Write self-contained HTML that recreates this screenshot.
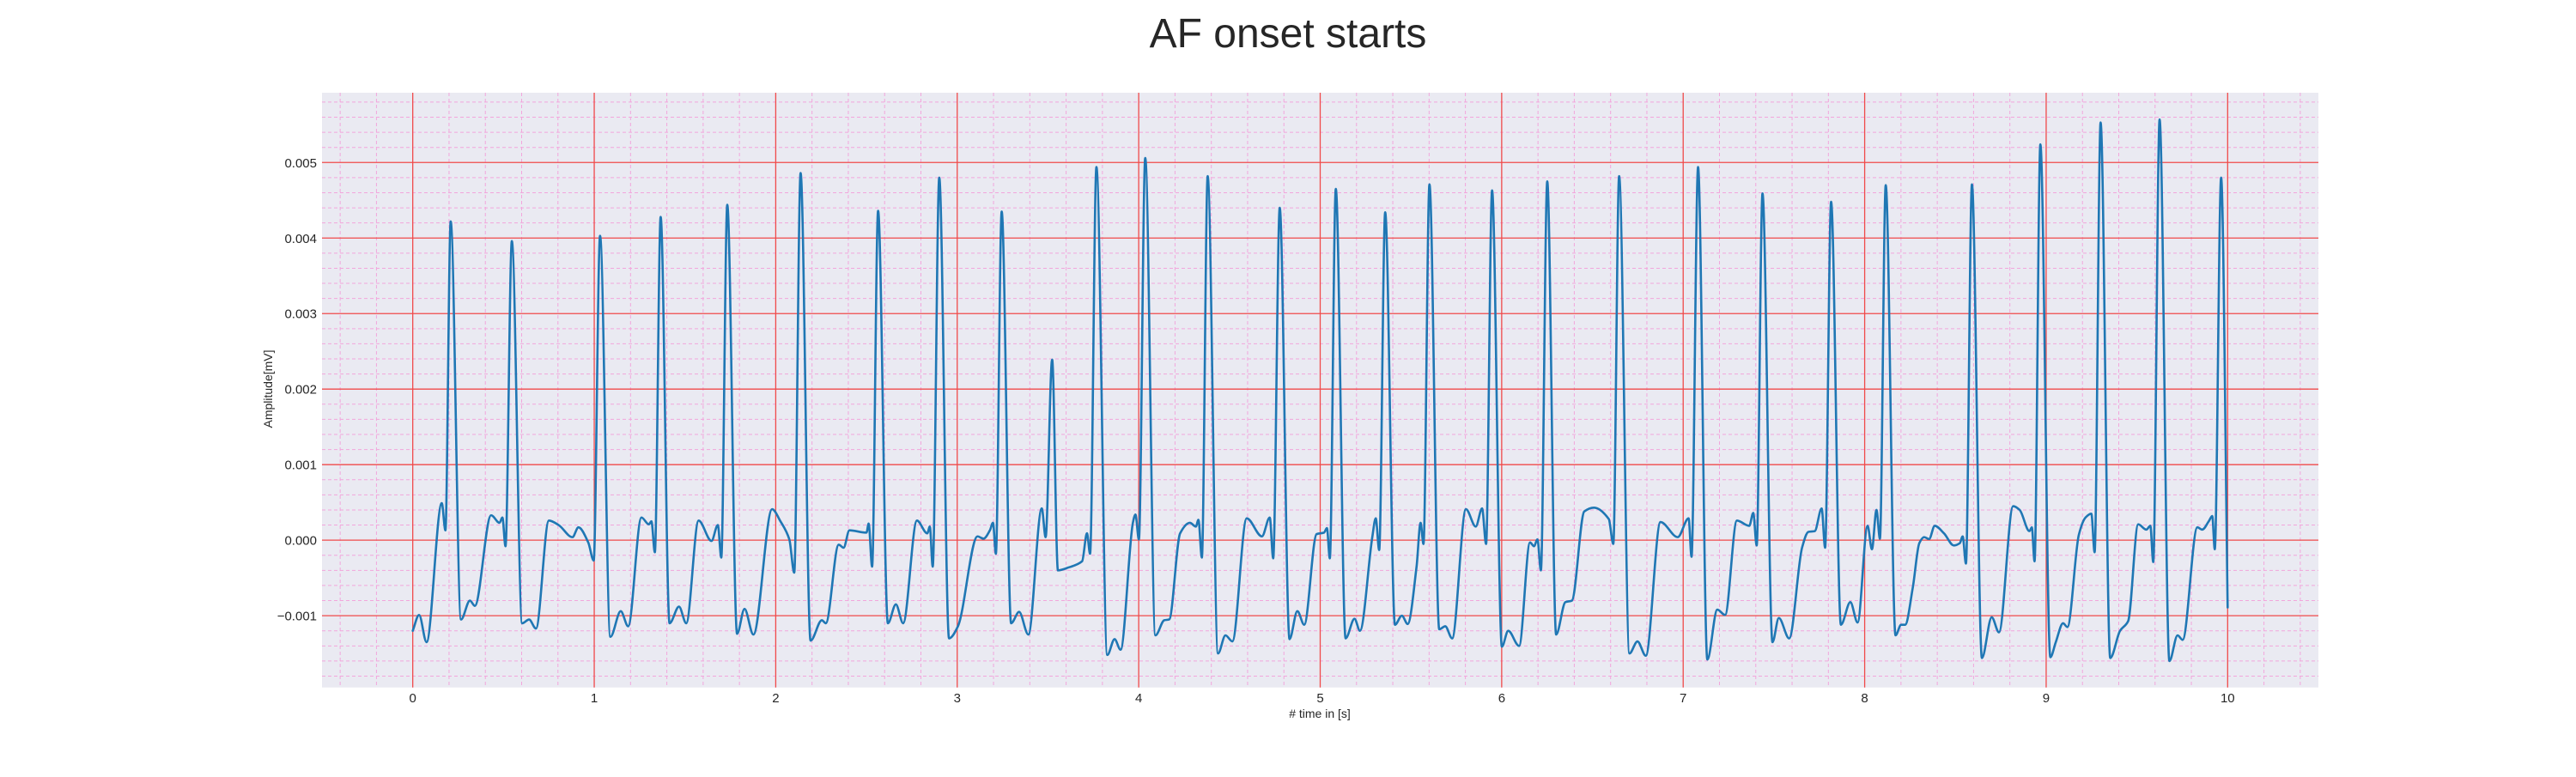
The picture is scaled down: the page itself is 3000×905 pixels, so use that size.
<!DOCTYPE html>
<html>
<head>
<meta charset="utf-8">
<style>
  html,body{margin:0;padding:0;background:#fff;}
  body{width:3000px;height:900px;overflow:hidden;font-family:"Liberation Sans",Arial,sans-serif;}
  svg text{font-family:"Liberation Sans",Arial,sans-serif;fill:#262626;}
</style>
</head>
<body>
<svg id="chart" width="3000" height="900" viewBox="0 0 3000 900" xmlns="http://www.w3.org/2000/svg">
  <text x="1500" y="55" font-size="48" text-anchor="middle">AF onset starts</text>
  <rect x="375" y="108" width="2325" height="692.7" fill="#eaeaf2"/>
  <g id="minor-grid"></g>
  <g id="major-grid"></g>
  <g id="series"></g>
  <g id="x-ticks"></g>
  <g id="y-ticks"></g>
  <text x="1537" y="836" font-size="14" text-anchor="middle"># time in [s]</text>
  <text x="0" y="0" font-size="14" text-anchor="middle" transform="translate(317,453) rotate(-90)">Amplitude[mV]</text>
</svg>
<script>
// ---- data (amplitudes in units of 0.001 mV) ----
const sampleTimes = [0,.035,.076,.16,.18,.209,.266,.315,.342,.432,.478,.494,.511,.546,.603,.641,.679,.75,.804,.88,.913,.967,.997,1.032,1.089,1.146,1.187,1.26,1.301,1.315,1.334,1.366,1.415,1.467,1.507,1.575,1.646,1.681,1.70,1.733,1.787,1.828,1.877,1.98,2.026,2.075,2.102,2.137,2.192,2.254,2.276,2.347,2.374,2.406,2.50,2.512,2.531,2.564,2.618,2.662,2.702,2.778,2.835,2.849,2.865,2.901,2.955,3.004,3.112,3.145,3.18,3.197,3.213,3.245,3.297,3.341,3.392,3.466,3.487,3.523,3.555,3.615,3.688,3.715,3.732,3.767,3.827,3.867,3.90,3.968,3.982,4.001,4.036,4.092,4.141,4.168,4.228,4.282,4.315,4.329,4.348,4.380,4.437,4.478,4.516,4.595,4.679,4.722,4.741,4.777,4.831,4.874,4.912,4.980,5.021,5.037,5.053,5.086,5.140,5.189,5.219,5.287,5.306,5.325,5.358,5.412,5.450,5.482,5.531,5.553,5.569,5.602,5.656,5.689,5.727,5.803,5.857,5.892,5.914,5.947,6.001,6.036,6.096,6.156,6.178,6.197,6.216,6.251,6.300,6.351,6.387,6.455,6.509,6.590,6.615,6.647,6.704,6.748,6.794,6.875,6.970,7.030,7.046,7.082,7.133,7.188,7.231,7.296,7.364,7.386,7.405,7.437,7.492,7.527,7.584,7.655,7.690,7.725,7.763,7.782,7.815,7.869,7.921,7.961,8.016,8.040,8.065,8.084,8.116,8.170,8.201,8.223,8.265,8.301,8.328,8.355,8.386,8.437,8.491,8.524,8.540,8.558,8.591,8.646,8.700,8.740,8.818,8.854,8.908,8.921,8.936,8.968,9.023,9.053,9.093,9.117,9.180,9.217,9.249,9.267,9.300,9.353,9.407,9.452,9.507,9.552,9.574,9.590,9.625,9.679,9.724,9.752,9.833,9.860,9.896,9.915,9.929,9.964,10.0];
const sampleValues = [-1.20,-.99,-1.35,.49,.13,4.22,-1.05,-.80,-.87,.33,.23,.30,-.08,3.96,-1.10,-1.05,-1.17,.26,.20,.04,.17,-.03,-.27,4.03,-1.28,-.94,-1.14,.30,.21,.25,-.16,4.28,-1.10,-.88,-1.10,.26,-.01,.20,-.23,4.44,-1.24,-.91,-1.25,.41,.25,.01,-.43,4.86,-1.33,-1.06,-1.10,-.06,-.10,.13,.10,.22,-.35,4.36,-1.10,-.85,-1.10,.26,.09,.18,-.35,4.80,-1.30,-1.14,.05,.02,.13,.23,-.18,4.35,-1.10,-.95,-1.25,.42,.04,2.39,-.40,-.36,-.28,.09,-.18,4.94,-1.52,-1.31,-1.45,.23,.34,.01,5.06,-1.26,-1.06,-1.05,.09,.23,.18,.27,-.23,4.82,-1.50,-1.26,-1.34,.29,.05,.30,-.24,4.40,-1.31,-.94,-1.12,.08,.10,.16,-.24,4.65,-1.30,-1.04,-1.20,.04,.29,-.13,4.34,-1.12,-1.00,-1.11,-.35,.23,-.05,4.71,-1.18,-1.14,-1.30,.41,.18,.42,-.05,4.63,-1.41,-1.20,-1.40,-.03,-.08,.01,-.40,4.75,-1.25,-.82,-.80,.38,.43,.28,-.05,4.82,-1.50,-1.34,-1.53,.24,.04,.29,-.22,4.94,-1.58,-.92,-.99,.26,.19,.36,-.07,4.59,-1.35,-1.03,-1.30,-.10,.11,.12,.42,-.10,4.48,-1.12,-.82,-1.09,.19,-.12,.40,.02,4.70,-1.26,-1.12,-1.12,-.63,-.04,.04,.015,.19,.09,-.07,-.04,.05,-.31,4.71,-1.56,-1.02,-1.22,.45,.40,.12,.17,-.28,5.24,-1.55,-1.35,-1.10,-1.15,.07,.30,.35,-.16,5.53,-1.56,-1.20,-1.07,.21,.14,.19,-.29,5.57,-1.60,-1.26,-1.32,.17,.14,.25,.32,-.12,4.80,-.89];
const xTickValues = [0,1,2,3,4,5,6,7,8,9,10];
const xTickLabels = ["0","1","2","3","4","5","6","7","8","9","10"];
const yTickValues = [-1,0,1,2,3,4,5];
const yTickLabels = ["\u22120.001","0.000","0.001","0.002","0.003","0.004","0.005"];

// ---- axes ----
const X0 = 375, X1 = 2700, Y0 = 108, Y1 = 800.7;
const XMIN = -0.5, XMAX = 10.5, YMIN = -1.95, YMAX = 5.924;
function xs(t){ return X0 + (t - XMIN) / (XMAX - XMIN) * (X1 - X0); }
function ys(v){ return Y1 - (v - YMIN) / (YMAX - YMIN) * (Y1 - Y0); }

const NS = "http://www.w3.org/2000/svg";
function mk(tag, attrs, parent){
  const e = document.createElementNS(NS, tag);
  for (const k in attrs) e.setAttribute(k, attrs[k]);
  parent.appendChild(e);
  return e;
}

// minor grid
const gMinor = document.getElementById('minor-grid');
for (let i = -2; i <= 52; i++) {
  if (i % 5 === 0) continue;
  const t = i * 0.2;
  if (t <= XMIN || t >= XMAX) continue;
  const l = mk('line', {x1: xs(t), x2: xs(t), y1: Y0, y2: Y1, stroke: '#f2a6dc', 'stroke-width': 1, 'stroke-dasharray': '4,3'}, gMinor);
  
  
}
for (let i = -9; i <= 29; i++) {
  if (i % 5 === 0) continue;
  const v = i * 0.2;
  if (v <= YMIN || v >= YMAX) continue;
  const l = mk('line', {x1: X0, x2: X1, y1: ys(v), y2: ys(v), stroke: '#f2a6dc', 'stroke-width': 1, 'stroke-dasharray': '4,3'}, gMinor);
  
  
}

// major grid + tick labels
const gMajor = document.getElementById('major-grid');
const gXT = document.getElementById('x-ticks');
const gYT = document.getElementById('y-ticks');
xTickValues.forEach((t, i) => {
  const l = mk('line', {x1: xs(t), x2: xs(t), y1: Y0, y2: Y1, stroke: '#f04a4a', 'stroke-width': 1.3}, gMajor);
  
  
  const tx = mk('text', {x: xs(t), y: 818, 'font-size': 15, 'text-anchor': 'middle'}, gXT);
  tx.textContent = xTickLabels[i];
  
  
});
yTickValues.forEach((v, i) => {
  const l = mk('line', {x1: X0, x2: X1, y1: ys(v), y2: ys(v), stroke: '#f04a4a', 'stroke-width': 1.3}, gMajor);
  
  
  const tx = mk('text', {x: 369, y: ys(v) + 5.5, 'font-size': 15, 'text-anchor': 'end'}, gYT);
  tx.textContent = yTickLabels[i];
  
  
});

// monotone cubic interpolation of the samples
function buildPath(ts, vs){
  const n = ts.length;
  const d = [], m = new Array(n);
  for (let i = 0; i < n - 1; i++) d.push((vs[i+1] - vs[i]) / (ts[i+1] - ts[i]));
  m[0] = d[0]; m[n-1] = d[n-2];
  for (let i = 1; i < n - 1; i++) {
    if (d[i-1] * d[i] <= 0) m[i] = 0;
    else m[i] = 2 / (1 / d[i-1] + 1 / d[i]);
  }
  let p = 'M' + xs(ts[0]).toFixed(2) + ',' + ys(vs[0]).toFixed(2);
  for (let i = 0; i < n - 1; i++) {
    const h = ts[i+1] - ts[i];
    const c1t = ts[i] + h / 3, c1v = vs[i] + m[i] * h / 3;
    const c2t = ts[i+1] - h / 3, c2v = vs[i+1] - m[i+1] * h / 3;
    p += 'C' + xs(c1t).toFixed(2) + ',' + ys(c1v).toFixed(2) + ' ' +
         xs(c2t).toFixed(2) + ',' + ys(c2v).toFixed(2) + ' ' +
         xs(ts[i+1]).toFixed(2) + ',' + ys(vs[i+1]).toFixed(2);
  }
  return p;
}
const gSeries = document.getElementById('series');
const path = mk('path', {d: buildPath(sampleTimes, sampleValues), fill: 'none', stroke: '#1f77b4', 'stroke-width': 2.6, 'stroke-linejoin': 'round', 'stroke-linecap': 'round'}, gSeries);


</script>
</body>
</html>
